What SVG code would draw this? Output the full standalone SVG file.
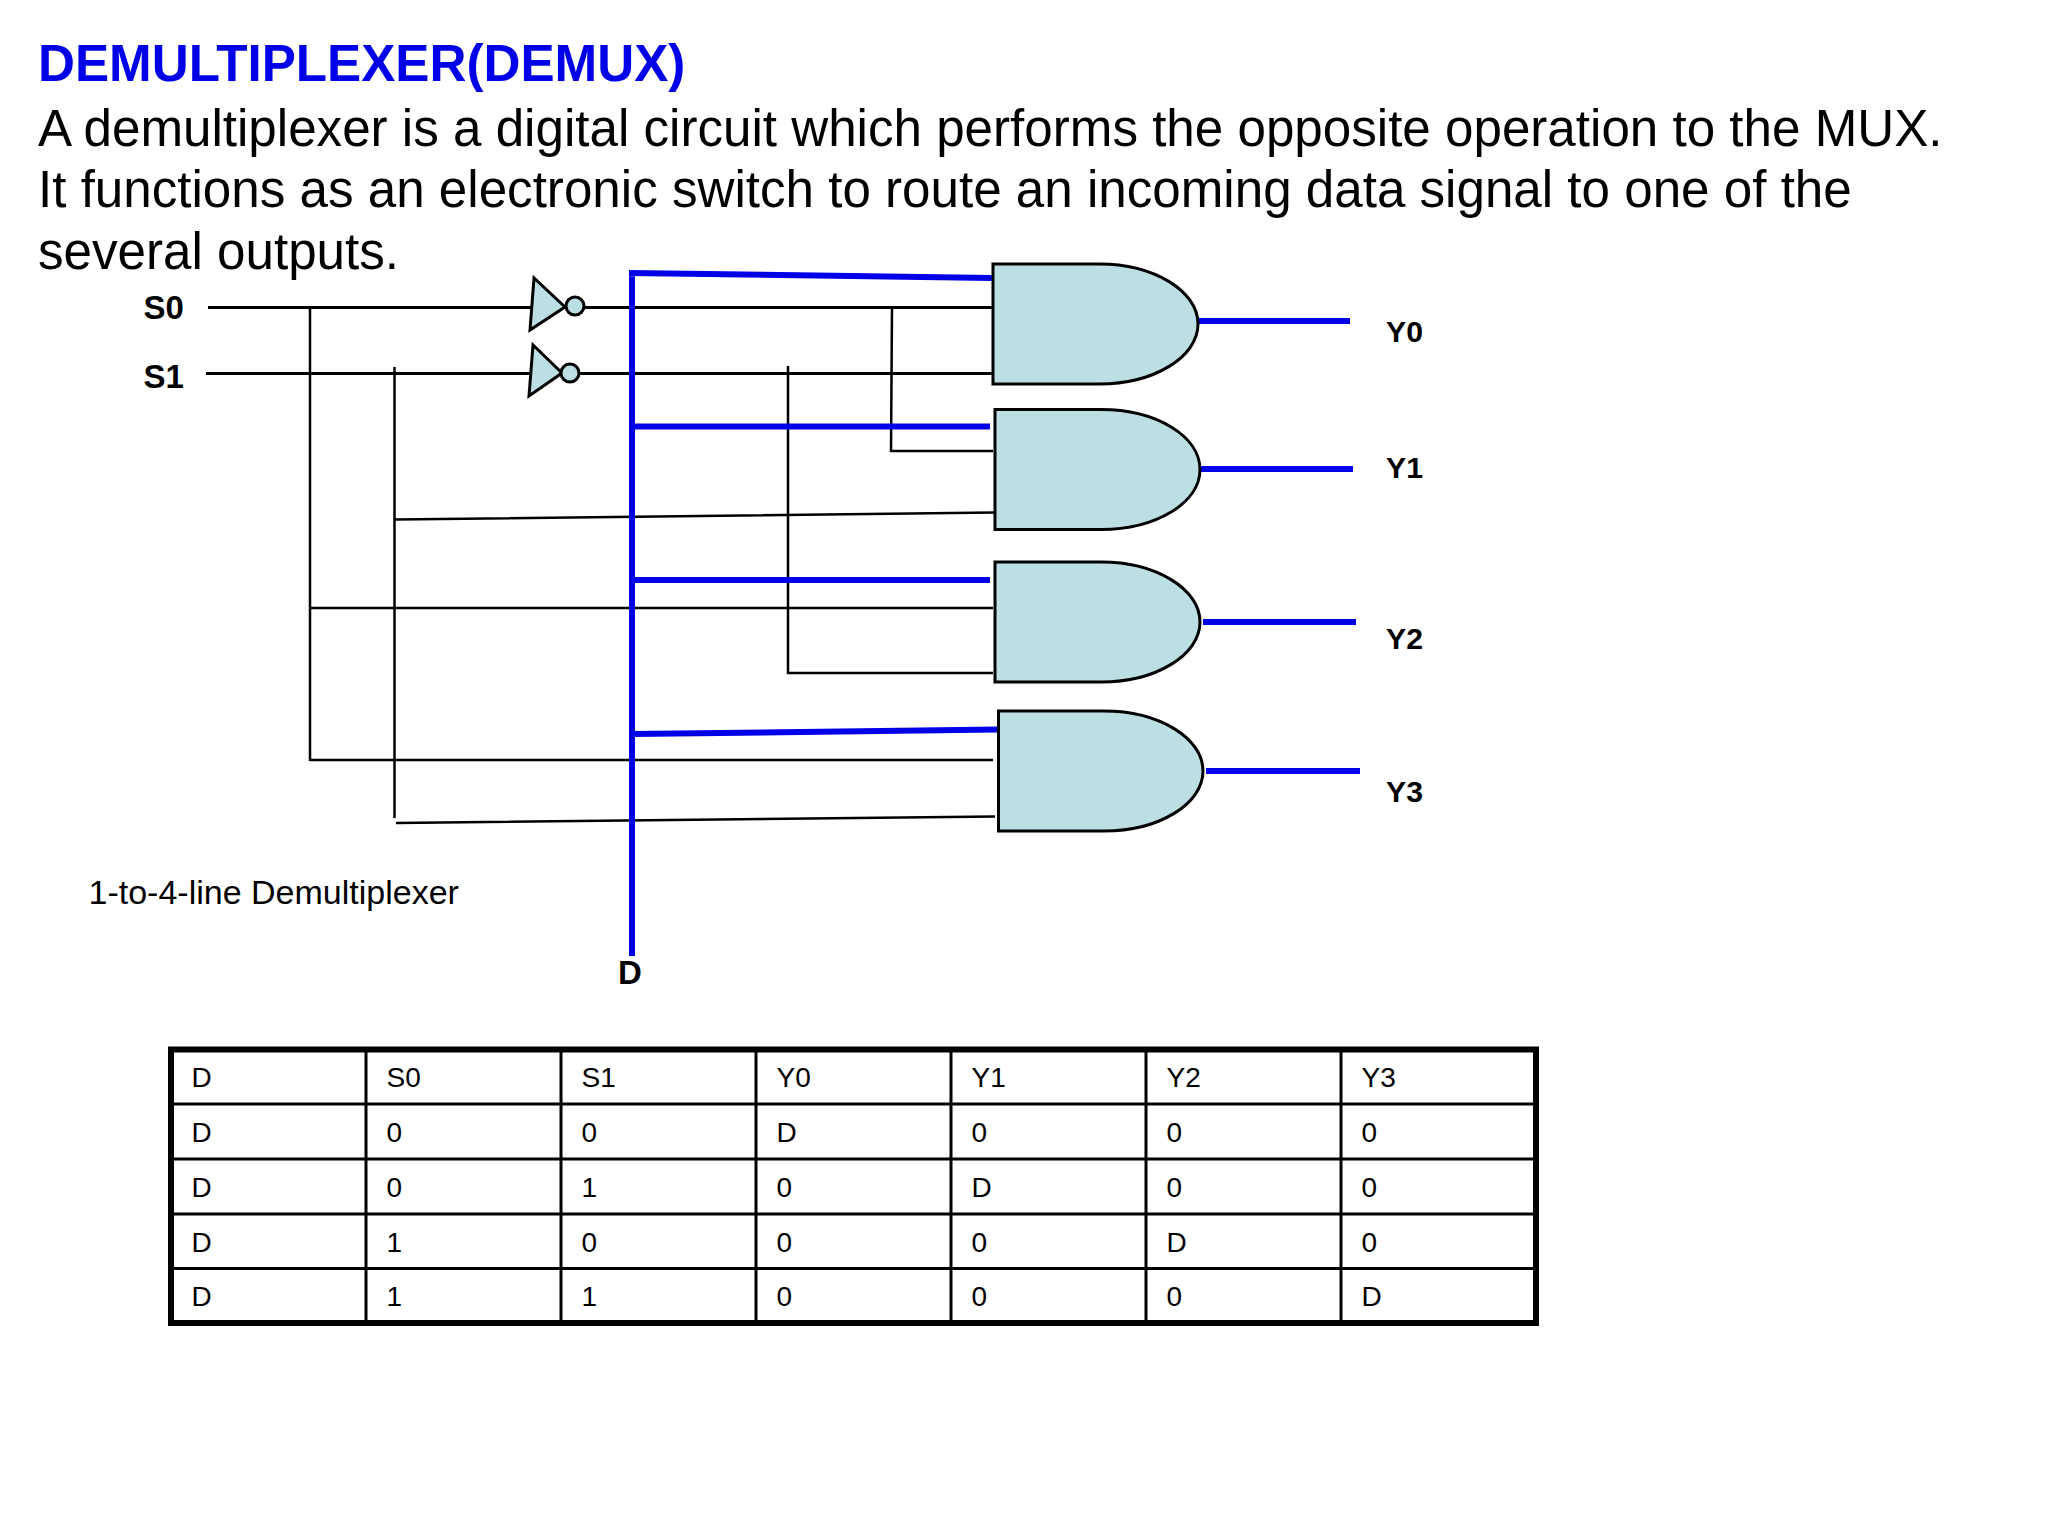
<svg xmlns="http://www.w3.org/2000/svg" width="2048" height="1536" viewBox="0 0 2048 1536">
<style>
text{font-family:"Liberation Sans",Arial,sans-serif;fill:#000}
.title{font-size:51.200px;font-weight:bold;fill:#0000e8}
.body{font-size:51.150px}
.lbl{font-size:30.200px;font-weight:bold}
.big{font-size:33px;font-weight:bold}
.cell{font-size:28px}
.cap{font-size:34px}
.w{stroke:#000;stroke-width:2.500;fill:none}
.h{stroke:#000;stroke-width:3;fill:none}
.b{stroke:#0000e8;stroke-width:6;fill:none}
.gate{fill:#bbdfe2;stroke:#000;stroke-width:3}
.grid{stroke:#000;stroke-width:3}
</style>
<rect width="2048" height="1536" fill="#fff"/>
<g id="heading">
<text class="title" x="38" y="80.500">DEMULTIPLEXER(DEMUX)</text>
<text class="body" x="38" y="145.500">A demultiplexer is a digital circuit which performs the opposite operation to the MUX.</text>
<text class="body" x="38" y="207">It functions as an electronic switch to route an incoming data signal to one of the</text>
<text class="body" x="38" y="269">several outputs.</text>
</g>
<g id="connectors">
<path class="h" d="M208 307.500H532M584 307.500H993M206 373.500H530M578 373.500H993"/>
<path class="w" d="M310 307V761M394.500 367V818M892 307L891 451H993M788 366V673H993"/>
<path class="w" d="M394.500 519.500L995 512.500M310 608H993M310 760H993M396 823L995 816.500"/>
<path class="b" d="M632 272V956M629 273L993 278M632 426.500H990M632 580H990M632 734L998 729.500"/>
<path class="b" d="M1198 321H1350M1201 469H1353M1203 622H1356M1206 771H1360"/>
</g>
<g id="not0"><path class="gate" d="M534 278L530 330L565 307Z"/><circle class="gate" cx="575" cy="306" r="9"/></g>
<g id="not1"><path class="gate" d="M533 345L529 396L562 373Z"/><circle class="gate" cx="570" cy="373" r="9"/></g>
<g id="and0"><path class="gate" d="M993 264H1099C1154 264 1198 291 1198 324C1198 357 1154 384 1099 384H993Z"/></g>
<g id="and1"><path class="gate" d="M995 409.500H1101C1156 409.500 1200 436 1200 469.500C1200 503 1156 529.500 1101 529.500H995Z"/></g>
<g id="and2"><path class="gate" d="M995 562H1101C1156 562 1200 589 1200 622C1200 655 1156 682 1101 682H995Z"/></g>
<g id="and3"><path class="gate" d="M998.500 711H1104C1159 711 1203 738 1203 771C1203 804 1159 831 1104 831H998.500Z"/></g>
<g id="labels">
<text class="big" x="143.500" y="319">S0</text>
<text class="big" x="143.500" y="388">S1</text>
<text class="lbl" x="1386" y="341.500">Y0</text>
<text class="lbl" x="1386" y="477.500">Y1</text>
<text class="lbl" x="1386" y="648.500">Y2</text>
<text class="lbl" x="1386" y="801.500">Y3</text>
<text class="big" x="618" y="984">D</text>
<text class="cap" x="88.500" y="904">1-to-4-line Demultiplexer</text>
</g>
<g id="table">
<path class="grid" d="M366 1050V1323M561 1050V1323M756 1050V1323M951 1050V1323M1146 1050V1323M1341 1050V1323M171 1104H1536M171 1159H1536M171 1214H1536M171 1268.500H1536"/>
<rect x="171" y="1049.500" width="1365" height="273.500" fill="none" stroke="#000" stroke-width="6"/>
<g class="cell">
<text x="191.500" y="1087">D</text><text x="386.500" y="1087">S0</text><text x="581.500" y="1087">S1</text><text x="776.500" y="1087">Y0</text><text x="971.500" y="1087">Y1</text><text x="1166.500" y="1087">Y2</text><text x="1361.500" y="1087">Y3</text>
<text x="191.500" y="1142">D</text><text x="386.500" y="1142">0</text><text x="581.500" y="1142">0</text><text x="776.500" y="1142">D</text><text x="971.500" y="1142">0</text><text x="1166.500" y="1142">0</text><text x="1361.500" y="1142">0</text>
<text x="191.500" y="1197">D</text><text x="386.500" y="1197">0</text><text x="581.500" y="1197">1</text><text x="776.500" y="1197">0</text><text x="971.500" y="1197">D</text><text x="1166.500" y="1197">0</text><text x="1361.500" y="1197">0</text>
<text x="191.500" y="1252">D</text><text x="386.500" y="1252">1</text><text x="581.500" y="1252">0</text><text x="776.500" y="1252">0</text><text x="971.500" y="1252">0</text><text x="1166.500" y="1252">D</text><text x="1361.500" y="1252">0</text>
<text x="191.500" y="1306">D</text><text x="386.500" y="1306">1</text><text x="581.500" y="1306">1</text><text x="776.500" y="1306">0</text><text x="971.500" y="1306">0</text><text x="1166.500" y="1306">0</text><text x="1361.500" y="1306">D</text>
</g>
</g>
</svg>
